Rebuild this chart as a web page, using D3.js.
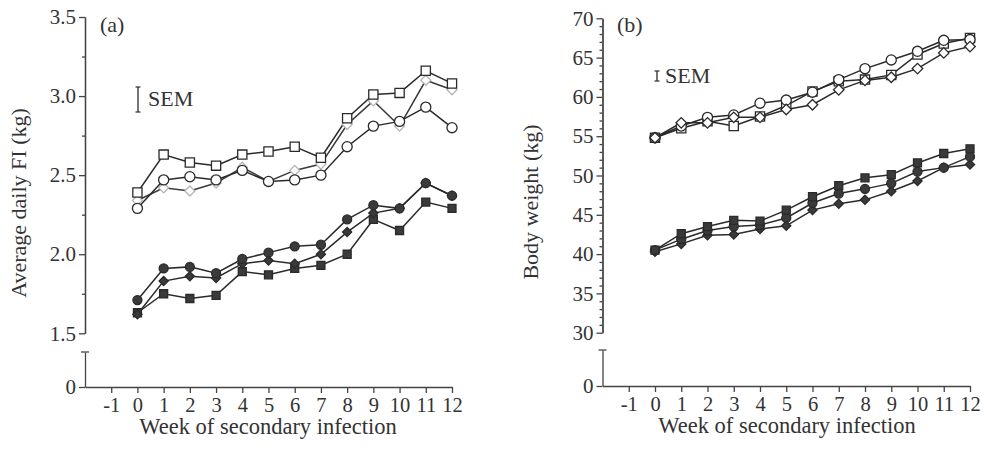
<!DOCTYPE html>
<html><head><meta charset="utf-8">
<script src="https://cdn.jsdelivr.net/npm/d3@7/dist/d3.min.js"></script>
<style>
body{margin:0;background:#fff;}
svg text{font-family:"Liberation Serif","DejaVu Serif",serif;fill:#333;}
</style></head>
<body>
<svg id="chart" width="984" height="452"></svg>
<script>
// ---- data ----
const weeks = [0,1,2,3,4,5,6,7,8,9,10,11,12];
const xTicks = [-1,0,1,2,3,4,5,6,7,8,9,10,11,12];

// Panel (a): Average daily FI (kg)
const fiTicks = [1.5,2.0,2.5,3.0,3.5];
const fiOpenSquare   = [2.39,2.63,2.58,2.56,2.63,2.65,2.68,2.61,2.86,3.01,3.02,3.16,3.08];
const fiOpenCircle   = [2.29,2.47,2.49,2.47,2.53,2.46,2.47,2.50,2.68,2.81,2.84,2.93,2.80];
const fiOpenDiamond  = [2.34,2.42,2.40,2.45,2.55,2.46,2.53,2.57,2.82,2.97,2.81,3.10,3.04];
const fiFilledCircle = [1.71,1.91,1.92,1.88,1.97,2.01,2.05,2.06,2.22,2.31,2.29,2.45,2.37];
const fiFilledDiamond= [1.62,1.83,1.86,1.85,1.94,1.96,1.94,2.00,2.14,2.26,2.29,2.45,2.37];
const fiFilledSquare = [1.63,1.75,1.72,1.74,1.89,1.87,1.91,1.93,2.00,2.22,2.15,2.33,2.29];

// Panel (b): Body weight (kg)
const bwTicks = [30,35,40,45,50,55,60,65,70];
const bwOpenCircle   = [54.8,56.3,57.4,57.7,59.2,59.6,60.6,62.2,63.6,64.7,65.8,67.2,67.3];
const bwOpenSquare   = [54.8,56.0,56.9,56.3,57.5,58.9,60.7,62.0,62.2,62.8,65.4,66.8,67.5];
const bwOpenDiamond  = [54.8,56.7,56.7,57.4,57.4,58.4,59.0,60.9,62.1,62.5,63.6,65.6,66.4];
const bwFilledSquare = [40.5,42.6,43.5,44.3,44.2,45.6,47.3,48.7,49.7,50.1,51.6,52.8,53.4];
const bwFilledCircle = [40.5,41.9,43.0,43.5,43.7,44.6,46.5,47.7,48.3,49.0,50.5,51.0,52.4];
const bwFilledDiamond= [40.3,41.3,42.4,42.5,43.2,43.6,45.6,46.4,46.9,48.0,49.3,51.0,51.4];

const svg = d3.select("#chart");
const INK = "#2a2a2a", AX = "#444";

function markerPath(shape, size){
  if(shape==="circle") return d3.symbol(d3.symbolCircle, size)();
  return d3.symbol(d3.symbolSquare, size)();
}

function panel(cfg){
  const g = svg.append("g");
  const x = d3.scaleLinear().domain([-2,12]).range(cfg.xRange);
  const y = d3.scaleLinear().domain(cfg.yDomain).range(cfg.yRange);
  const yLow = d3.scaleLinear().domain([0,1]).range([cfg.zeroY, cfg.breakY]);

  const ay = g.append("g").attr("transform",`translate(${cfg.xRange[0]},0)`)
    .call(d3.axisLeft(y).tickValues(cfg.ticks).tickFormat(cfg.fmt).tickSize(6).tickSizeOuter(0).tickPadding(3));
  const aym = g.append("g").attr("transform",`translate(${cfg.xRange[0]},0)`)
    .call(d3.axisLeft(y).tickValues(cfg.minor).tickFormat("").tickSize(3).tickSizeOuter(0));
  const al = g.append("g").attr("transform",`translate(${cfg.xRange[0]},0)`)
    .call(d3.axisLeft(yLow).tickValues([0]).tickFormat(d=>String(d)).tickSize(6).tickSizeOuter(0).tickPadding(3));
  g.append("line").attr("x1",cfg.xRange[0]-4).attr("x2",cfg.xRange[0]+4)
    .attr("y1",cfg.breakY).attr("y2",cfg.breakY).attr("stroke",AX).attr("stroke-width",1.3);
  const ax = g.append("g").attr("transform",`translate(0,${cfg.zeroY})`)
    .call(d3.axisBottom(x).tickValues(xTicks).tickFormat(d=>String(d)).tickSize(6).tickSizeOuter(0).tickPadding(4));

  [ay,aym,al,ax].forEach(a=>{
    a.selectAll("path,line").attr("stroke",AX).attr("stroke-width",1.3);
    a.selectAll("text").style("font-size","21px").attr("fill","#333")
      .style("font-family",'"Liberation Serif",serif');
  });
  ax.selectAll("text").style("font-size","20.5px");

  g.append("text").attr("transform",`translate(${cfg.ytX},${cfg.ytY}) rotate(-90)`)
    .attr("text-anchor","middle").style("font-size","22px").text(cfg.yTitle);
  g.append("text").attr("x",cfg.xtX).attr("y",cfg.xtY).attr("text-anchor","middle")
    .style("font-size","22.5px").text("Week of secondary infection");
  g.append("text").attr("x",cfg.lab[0]).attr("y",cfg.lab[1]).style("font-size","22px").text(cfg.label);

  const s = cfg.sem;
  g.append("line").attr("x1",s.x).attr("x2",s.x).attr("y1",s.y1).attr("y2",s.y2).attr("stroke",INK).attr("stroke-width",1.3);
  [s.y1,s.y2].forEach(yy=>g.append("line").attr("x1",s.x-2.5).attr("x2",s.x+2.5).attr("y1",yy).attr("y2",yy).attr("stroke",INK).attr("stroke-width",1.2));
  g.append("text").attr("x",s.tx).attr("y",s.ty).style("font-size","22px").text("SEM");

  const line = d3.line().x((d,i)=>x(weeks[i])).y(d=>y(d));
  cfg.series.forEach(sr=>{
    g.append("path").attr("d",line(sr.values)).attr("fill","none")
      .attr("stroke",sr.lineColor||INK).attr("stroke-width",1.5);
  });
  cfg.series.forEach(sr=>{
    g.selectAll(null).data(sr.values).enter().append("path")
      .attr("d",markerPath(sr.shape, sr.size))
      .attr("transform",(d,i)=>`translate(${x(weeks[i])},${y(d)})${sr.shape==="diamond"?" rotate(45)":""}`)
      .attr("fill",sr.fill).attr("stroke",sr.stroke).attr("stroke-width",1.3);
  });
}

const dark = "#3a3a3a";
panel({
  xRange:[85,452], yDomain:[1.5,3.5], yRange:[333.3,17], zeroY:387, breakY:352,
  ticks:fiTicks, minor:[1.75,2.25,2.75,3.25], fmt:d3.format(".1f"),
  yTitle:"Average daily FI (kg)", ytX:26, ytY:203, xtX:268, xtY:434,
  label:"(a)", lab:[100,32],
  sem:{x:138,y1:87,y2:112,tx:148,ty:106},
  series:[
    {values:fiOpenDiamond, shape:"diamond", size:50, fill:"#fff", stroke:"#b5b5b5", lineColor:"#3a3a3a"},
    {values:fiOpenCircle, shape:"circle", size:80, fill:"#fff", stroke:INK},
    {values:fiOpenSquare, shape:"square", size:85, fill:"#fff", stroke:INK},
    {values:fiFilledSquare, shape:"square", size:64, fill:dark, stroke:INK},
    {values:fiFilledDiamond, shape:"diamond", size:42, fill:dark, stroke:INK},
    {values:fiFilledCircle, shape:"circle", size:64, fill:dark, stroke:INK}
  ]
});
panel({
  xRange:[602.5,970], yDomain:[30,70], yRange:[332.7,18.3], zeroY:386, breakY:350,
  ticks:bwTicks, minor:d3.range(31,70).filter(v=>v%5!==0), fmt:d3.format("d"),
  yTitle:"Body weight (kg)", ytX:538, ytY:202, xtX:787, xtY:433,
  label:"(b)", lab:[617,32],
  sem:{x:657,y1:71,y2:81,tx:665,ty:82.5},
  series:[
    {values:bwOpenSquare, shape:"square", size:85, fill:"#fff", stroke:INK},
    {values:bwOpenCircle, shape:"circle", size:80, fill:"#fff", stroke:INK},
    {values:bwOpenDiamond, shape:"diamond", size:55, fill:"#fff", stroke:INK},
    {values:bwFilledDiamond, shape:"diamond", size:42, fill:dark, stroke:INK},
    {values:bwFilledCircle, shape:"circle", size:64, fill:dark, stroke:INK},
    {values:bwFilledSquare, shape:"square", size:64, fill:dark, stroke:INK}
  ]
});
</script>
</body></html>
